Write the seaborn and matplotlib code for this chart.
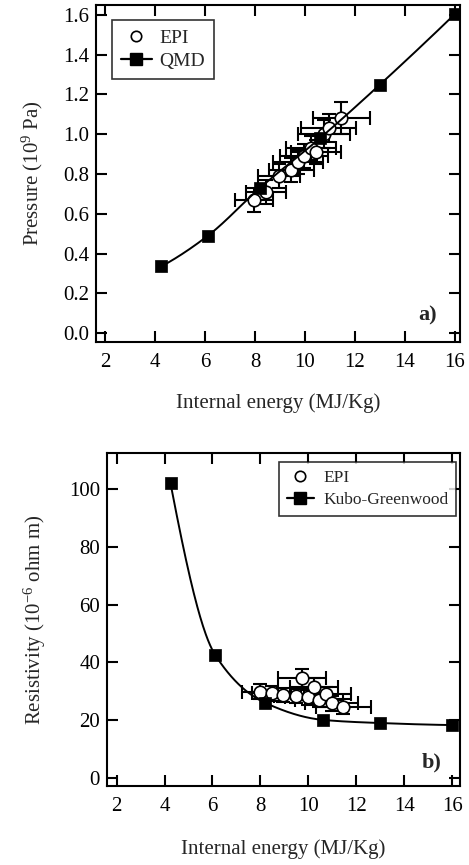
import numpy as np
import matplotlib
matplotlib.use("Agg")
import matplotlib.pyplot as plt
import seaborn as sns
from matplotlib.lines import Line2D

# ---------------- data ----------------
qmd_energy = [4.25, 6.12, 8.2, 10.6, 13.0, 16.0]
qmd_pressure = [0.335, 0.49, 0.73, 0.98, 1.25, 1.605]

epi_energy_a = [7.95, 8.45, 8.95, 9.45, 9.7, 9.95, 10.25, 10.45, 10.75, 10.95, 11.45]
epi_pressure = [0.67, 0.71, 0.79, 0.82, 0.86, 0.89, 0.93, 0.91, 1.00, 1.03, 1.08]
epi_pressure_err = [0.06, 0.06, 0.06, 0.06, 0.06, 0.06, 0.06, 0.06, 0.07, 0.07, 0.08]

kg_energy = [4.25, 6.12, 8.2, 10.6, 13.0, 16.0]
kg_resistivity = [102.0, 42.5, 26.0, 20.1, 19.0, 18.3]

epi_energy_b = [7.98, 8.47, 8.96, 9.47, 9.72, 9.97, 10.24, 10.46, 10.74, 10.98, 11.46]
epi_resistivity = [29.9, 29.3, 28.7, 28.4, 34.5, 27.9, 31.6, 27.0, 29.0, 25.8, 24.7]
epi_resistivity_err = [2.5, 2.5, 2.5, 2.5, 3.2, 2.5, 3.0, 2.5, 2.5, 2.5, 2.5]

epi_energy_err = [0.75, 0.8, 0.85, 0.9, 1.0, 0.95, 1.0, 1.0, 1.05, 1.1, 1.15]

x_ticks = [2, 4, 6, 8, 10, 12, 14, 16]
p_ticks = [0.0, 0.2, 0.4, 0.6, 0.8, 1.0, 1.2, 1.4, 1.6]
r_ticks = [0, 20, 40, 60, 80, 100]


def pchip(x, y, xn):
    x = np.asarray(x, float); y = np.asarray(y, float)
    h = np.diff(x); d = np.diff(y) / h
    n = len(x); m = np.zeros(n)
    for k in range(1, n - 1):
        if d[k - 1] * d[k] > 0:
            w1 = 2 * h[k] + h[k - 1]; w2 = h[k] + 2 * h[k - 1]
            m[k] = (w1 + w2) / (w1 / d[k - 1] + w2 / d[k])
    def end(h0, h1, d0, d1):
        mm = ((2 * h0 + h1) * d0 - h0 * d1) / (h0 + h1)
        if np.sign(mm) != np.sign(d0):
            mm = 0.0
        elif np.sign(d0) != np.sign(d1) and abs(mm) > abs(3 * d0):
            mm = 3 * d0
        return mm
    m[0] = end(h[0], h[1], d[0], d[1])
    m[-1] = end(h[-1], h[-2], d[-1], d[-2])
    idx = np.clip(np.searchsorted(x, xn) - 1, 0, n - 2)
    t = (xn - x[idx]) / h[idx]
    h00 = 2 * t**3 - 3 * t**2 + 1; h10 = t**3 - 2 * t**2 + t
    h01 = -2 * t**3 + 3 * t**2; h11 = t**3 - t**2
    return h00 * y[idx] + h10 * h[idx] * m[idx] + h01 * y[idx + 1] + h11 * h[idx] * m[idx + 1]


sns.set_theme(style="ticks")
plt.rcParams["font.family"] = ["Liberation Serif", "DejaVu Serif"]
plt.rcParams["mathtext.fontset"] = "custom"
plt.rcParams["mathtext.rm"] = "Liberation Serif"
plt.rcParams["mathtext.it"] = "Liberation Serif:italic"
plt.rcParams["axes.unicode_minus"] = True

W, H = 469, 865
fig = plt.figure(figsize=(W / 100, H / 100), dpi=100)

def px_axes(l, r, t, b):
    return fig.add_axes([l / W, 1 - b / H, (r - l) / W, (b - t) / H])

ax1 = px_axes(96, 460, 5, 342)
ax2 = px_axes(107, 460, 453, 786)

FS = 15
LFS = 14
for ax in (ax1, ax2):
    for s in ax.spines.values():
        s.set_linewidth(1.5); s.set_color("black")
    ax.tick_params(direction="in", top=True, right=True, length=8, width=1.5,
                   labelsize=FS, colors="black")
    ax.tick_params(axis="x", pad=8)
    ax.tick_params(axis="y", pad=5)
    ax.set_facecolor("white")

ms_sq = 9
ms_c = 9

# ---- panel a ----
ax1.errorbar(epi_energy_a, epi_pressure, xerr=epi_energy_err, yerr=epi_pressure_err,
             fmt="none", ecolor="black", elinewidth=1.5, capsize=5, capthick=1.5, zorder=2)
sns.scatterplot(x=epi_energy_a, y=epi_pressure, ax=ax1, marker="o", s=ms_c**2,
                facecolor="white", edgecolor="black", linewidth=1.2, zorder=3)
xs = np.linspace(qmd_energy[0], qmd_energy[-1], 300)
ax1.plot(xs, pchip(qmd_energy, qmd_pressure, xs), color="black", lw=1.4, zorder=4)
sns.scatterplot(x=qmd_energy, y=qmd_pressure, ax=ax1, marker="s", s=ms_sq**2,
                color="black", edgecolor="black", linewidth=0.5, zorder=5)
ax1.set_xlim(1.64, 16.2)
ax1.set_ylim(-0.045, 1.65)
ax1.set_xticks(x_ticks)
ax1.set_yticks(p_ticks)
ax1.set_yticklabels([f"{v:.1f}" for v in p_ticks])
ax1.set_xlabel("Internal energy (MJ/Kg)", fontsize=FS, labelpad=15)
ax1.set_ylabel("Pressure (10$^{9}$ Pa)", fontsize=FS, labelpad=13)
ax1.text(0.91, 0.08, "a)", transform=ax1.transAxes, fontsize=16, fontweight="bold",
         ha="center", va="center")

h_epi = Line2D([], [], marker="o", ls="none", markersize=7.5, markerfacecolor="white",
               markeredgecolor="black", markeredgewidth=1.2)
h_qmd = Line2D([], [], marker="s", ls="-", color="black", lw=1.6, markersize=8)
leg1 = ax1.legend([h_epi, h_qmd], ["EPI", "QMD"], loc="upper left",
                  bbox_to_anchor=(0.044, 0.955), borderaxespad=0, fontsize=LFS, frameon=True,
                  fancybox=False, edgecolor="black", handlelength=1.6,
                  borderpad=0.45, labelspacing=0.3, handletextpad=0.4)
leg1.get_frame().set_linewidth(1.2)

# ---- panel b ----
ax2.errorbar(epi_energy_b, epi_resistivity, xerr=epi_energy_err, yerr=epi_resistivity_err,
             fmt="none", ecolor="black", elinewidth=1.5, capsize=5, capthick=1.5, zorder=2)
xs2 = np.linspace(kg_energy[0], kg_energy[-1], 400)
ax2.plot(xs2, pchip(kg_energy, kg_resistivity, xs2), color="black", lw=1.4, zorder=3)
sns.scatterplot(x=epi_energy_b, y=epi_resistivity, ax=ax2, marker="o", s=ms_c**2,
                facecolor="white", edgecolor="black", linewidth=1.2, zorder=4)
sns.scatterplot(x=kg_energy, y=kg_resistivity, ax=ax2, marker="s", s=ms_sq**2,
                color="black", edgecolor="black", linewidth=0.5, zorder=5)
ax2.set_xlim(1.6, 16.33)
ax2.set_ylim(-2.8, 112.5)
ax2.set_xticks(x_ticks)
ax2.set_yticks(r_ticks)
ax2.set_xlabel("Internal energy (MJ/Kg)", fontsize=FS, labelpad=17)
ax2.set_ylabel("Resistivity (10$^{-6}$ ohm m)", fontsize=FS, labelpad=15)
ax2.text(0.92, 0.072, "b)", transform=ax2.transAxes, fontsize=16, fontweight="bold",
         ha="center", va="center")

h_kg = Line2D([], [], marker="s", ls="-", color="black", lw=1.6, markersize=8)
leg2 = ax2.legend([h_epi, h_kg], ["EPI", "Kubo-Greenwood"], loc="upper right",
                  bbox_to_anchor=(0.989, 0.973), borderaxespad=0, fontsize=12.5, frameon=True,
                  fancybox=False, edgecolor="black", handlelength=1.6,
                  borderpad=0.45, labelspacing=0.35, handletextpad=0.5)
leg2.get_frame().set_linewidth(1.2)

fig.savefig("out.png", dpi=100, facecolor="white")
